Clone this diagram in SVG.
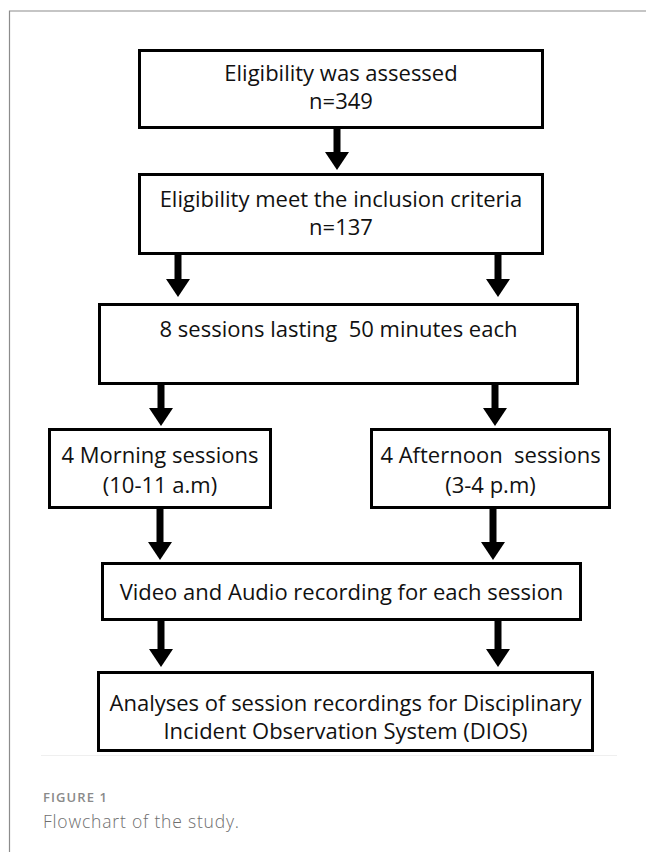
<svg xmlns="http://www.w3.org/2000/svg" width="646" height="852" viewBox="0 0 646 852">
  <style>
    .box { fill: #ffffff; stroke: #000000; stroke-width: 3; }
    .lbl { font-family: "Open Sans", "Noto Sans", "DejaVu Sans", sans-serif; font-size: 22px; fill: #111111; text-anchor: middle; }
    .conn { stroke: #000000; stroke-width: 7; fill: none; marker-end: url(#head); }
    .frame { stroke: #8c8c8c; stroke-width: 1.2; fill: none; }
    .caphead { font-family: "Open Sans", "Noto Sans", sans-serif; font-size: 13px; font-weight: 600; fill: #8a8a8a; }
    .captext { font-family: "Open Sans", "Noto Sans", sans-serif; font-size: 17.5px; font-weight: 300; fill: #6e6e6e; }
  </style>
  <defs>
    <marker id="head" markerUnits="userSpaceOnUse" markerWidth="18" markerHeight="24" viewBox="0 0 18 24" refX="0" refY="12" orient="auto">
      <path d="M0,0 L18,12 L0,24 Z" fill="#000000"/>
    </marker>
  </defs>

  <rect x="0" y="0" width="646" height="852" fill="#ffffff"/>

  <!-- page frame: top and left rules -->
  <path class="frame" d="M9.5,852 V11 H646"/>
  <!-- faint edge under the figure -->
  <line x1="41" y1="755.5" x2="617" y2="755.5" stroke="#efefef" stroke-width="1"/>

  <g id="connectors">
    <line class="conn" x1="337" y1="129" x2="337" y2="152"/>
    <line class="conn" x1="178" y1="255" x2="178" y2="279"/>
    <line class="conn" x1="498" y1="255" x2="498" y2="279"/>
    <line class="conn" x1="161" y1="385" x2="161" y2="408"/>
    <line class="conn" x1="495" y1="385" x2="495" y2="408"/>
    <line class="conn" x1="160" y1="509" x2="160" y2="542"/>
    <line class="conn" x1="493" y1="509" x2="493" y2="542"/>
    <line class="conn" x1="161" y1="621" x2="161" y2="649"/>
    <line class="conn" x1="498" y1="621" x2="498" y2="649"/>
  </g>

  <g id="assessed">
    <rect class="box" x="139.5" y="50.5" width="403" height="77"/>
    <text class="lbl" x="341" y="81">Eligibility was assessed</text>
    <text class="lbl" x="341" y="109">n=349</text>
  </g>

  <g id="eligible">
    <rect class="box" x="139.5" y="174.5" width="403" height="79"/>
    <text class="lbl" x="341" y="207">Eligibility meet the inclusion criteria</text>
    <text class="lbl" x="341" y="235">n=137</text>
  </g>

  <g id="sessions">
    <rect class="box" x="99.5" y="304.5" width="478" height="79"/>
    <text class="lbl" x="338.5" y="337" xml:space="preserve">8 sessions lasting  50 minutes each</text>
  </g>

  <g id="morning">
    <rect class="box" x="49.5" y="429.5" width="221" height="78"/>
    <text class="lbl" x="160" y="463">4 Morning sessions</text>
    <text class="lbl" x="160" y="493">(10-11 a.m)</text>
  </g>

  <g id="afternoon">
    <rect class="box" x="371.5" y="429.5" width="238" height="78"/>
    <text class="lbl" x="490.5" y="463" xml:space="preserve">4 Afternoon  sessions</text>
    <text class="lbl" x="490.5" y="493">(3-4 p.m)</text>
  </g>

  <g id="recording">
    <rect class="box" x="102.5" y="563.5" width="478" height="56"/>
    <text class="lbl" x="341.5" y="600">Video and Audio recording for each session</text>
  </g>

  <g id="analyses">
    <rect class="box" x="98.5" y="672.5" width="494" height="78"/>
    <text class="lbl" x="345.5" y="711">Analyses of session recordings for Disciplinary</text>
    <text class="lbl" x="345.5" y="739">Incident Observation System (DIOS)</text>
  </g>

  <g id="caption">
    <text class="caphead" x="43" y="802" textLength="64" lengthAdjust="spacing">FIGURE 1</text>
    <text class="captext" x="43" y="828" textLength="196" lengthAdjust="spacing">Flowchart of the study.</text>
  </g>
</svg>
